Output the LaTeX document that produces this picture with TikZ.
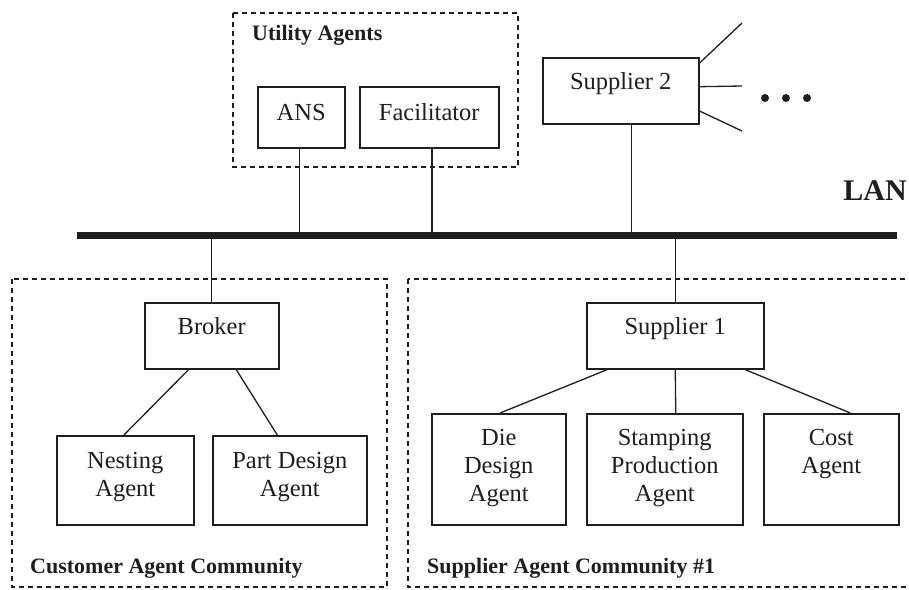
\documentclass[tikz,border=0pt]{standalone}
\usepackage{fontspec}
\setmainfont{Liberation Serif}
\usetikzlibrary{calc}
\definecolor{ink}{RGB}{30,30,30}
\newcommand\tstrut{\rule{0pt}{18pt}}
\tikzset{
  agent/.style={draw=ink, line width=1.5pt, fill=white, anchor=north west, inner sep=0pt},
  agenttext/.style={anchor=north, inner sep=0pt, align=center, text=ink,
    font=\fontsize{24.5}{28}\selectfont},
  group/.style={draw=ink, line width=1.4pt, dash pattern=on 5pt off 4pt},
  grouplabel/.style={anchor=west, inner sep=0pt, text=ink,
    font=\bfseries\fontsize{22}{25}\selectfont},
  link/.style={draw=ink, line width=1.3pt},
  lanbus/.style={draw=ink, line width=7pt},
  dot/.style={circle, fill=ink, inner sep=0pt, minimum size=8pt},
}
\begin{document}
\begin{tikzpicture}[x=1pt,y=-1pt]
\useasboundingbox (0,0) rectangle (909,589);

% agent communities
\draw[group] (233,13) rectangle (518,167);
\draw[group] (12,279) rectangle (387,587);
\draw[group] (408,279) rectangle (920,587);
\node[grouplabel] (utillbl) at (252,35) {Utility Agents};
\node[grouplabel] (custlbl) at (30,568) {Customer Agent Community};
\node[grouplabel] (supplbl) at (427,568) {Supplier Agent Community \#1};

% network bus
\coordinate (lanL) at (77,235);
\coordinate (lanR) at (897,235);
\draw[lanbus] (lanL) -- (lanR);
\node[anchor=east, inner sep=0pt, text=ink, font=\bfseries\fontsize{30}{34}\selectfont]
  (lanlbl) at (907,191) {LAN};

% agents
\node[agent, minimum width=87pt,  minimum height=61pt]  (ans)  at (257,86)  {};
\node[agent, minimum width=139pt, minimum height=61pt]  (fac)  at (359,86)  {};
\node[agent, minimum width=156pt, minimum height=66pt]  (sup2) at (542,57)  {};
\node[agent, minimum width=134pt, minimum height=66pt]  (brk)  at (144,302) {};
\node[agent, minimum width=137pt, minimum height=89pt]  (nest) at (56,435)  {};
\node[agent, minimum width=154pt, minimum height=89pt]  (part) at (212,435) {};
\node[agent, minimum width=177pt, minimum height=66pt]  (sup1) at (586,302) {};
\node[agent, minimum width=134pt, minimum height=111pt] (die)  at (431,413) {};
\node[agent, minimum width=156pt, minimum height=111pt] (stmp) at (586,413) {};
\node[agent, minimum width=135pt, minimum height=111pt] (cost) at (763,413) {};

\node[agenttext] (anst)  at ([yshift=-16pt]ans.north)  {\tstrut ANS};
\node[agenttext] (fact)  at ([yshift=-16pt]fac.north)  {\tstrut Facilitator};
\node[agenttext] (sup2t) at ([yshift=-14pt]sup2.north) {\tstrut Supplier 2};
\node[agenttext] (brkt)  at ([yshift=-14pt]brk.north)  {\tstrut Broker};
\node[agenttext] (nestt) at ([yshift=-15pt]nest.north) {\tstrut Nesting\\Agent};
\node[agenttext] (partt) at ([yshift=-15pt]part.north) {\tstrut Part Design\\Agent};
\node[agenttext] (sup1t) at ([yshift=-14pt]sup1.north) {\tstrut Supplier 1};
\node[agenttext] (diet)  at ([yshift=-14pt]die.north)  {\tstrut Die\\Design\\Agent};
\node[agenttext] (stmpt) at ([yshift=-14pt]stmp.north) {\tstrut Stamping\\Production\\Agent};
\node[agenttext] (costt) at ([yshift=-14pt]cost.north) {\tstrut Cost\\Agent};

% drops to the bus
\foreach \n/\f in {ans/0.48, fac/0.52, sup2/0.57}{
  \coordinate (drop) at ($(\n.south west)!\f!(\n.south east)$);
  \draw[link] (drop) -- (drop |- lanL);
}
\foreach \n/\f in {brk/0.5, sup1/0.5}{
  \coordinate (drop) at ($(\n.north west)!\f!(\n.north east)$);
  \draw[link] (drop) -- (drop |- lanL);
}

% hierarchy links
\draw[link] ($(brk.south west)!0.33!(brk.south east)$) -- ($(nest.north west)!0.49!(nest.north east)$);
\draw[link] ($(brk.south west)!0.68!(brk.south east)$) -- ($(part.north west)!0.42!(part.north east)$);
\draw[link] ($(sup1.south west)!0.12!(sup1.south east)$) -- ($(die.north west)!0.51!(die.north east)$);
\draw[link] ($(sup1.south west)!0.50!(sup1.south east)$) -- ($(stmp.north west)!0.57!(stmp.north east)$);
\draw[link] ($(sup1.south west)!0.89!(sup1.south east)$) -- ($(cost.north west)!0.64!(cost.north east)$);

% further suppliers
\coordinate (fanA) at (742,23);
\coordinate (fanB) at (742,86);
\coordinate (fanC) at (742,131);
\draw[link] ($(sup2.north east)!0.09!(sup2.south east)$) -- (fanA);
\draw[link] ($(sup2.north east)!0.44!(sup2.south east)$) -- (fanB);
\draw[link] ($(sup2.north east)!0.80!(sup2.south east)$) -- (fanC);
\node[dot] (d1) at (765,98) {};
\node[dot] (d2) at (786,98) {};
\node[dot] (d3) at (807,98) {};
\end{tikzpicture}
\end{document}
